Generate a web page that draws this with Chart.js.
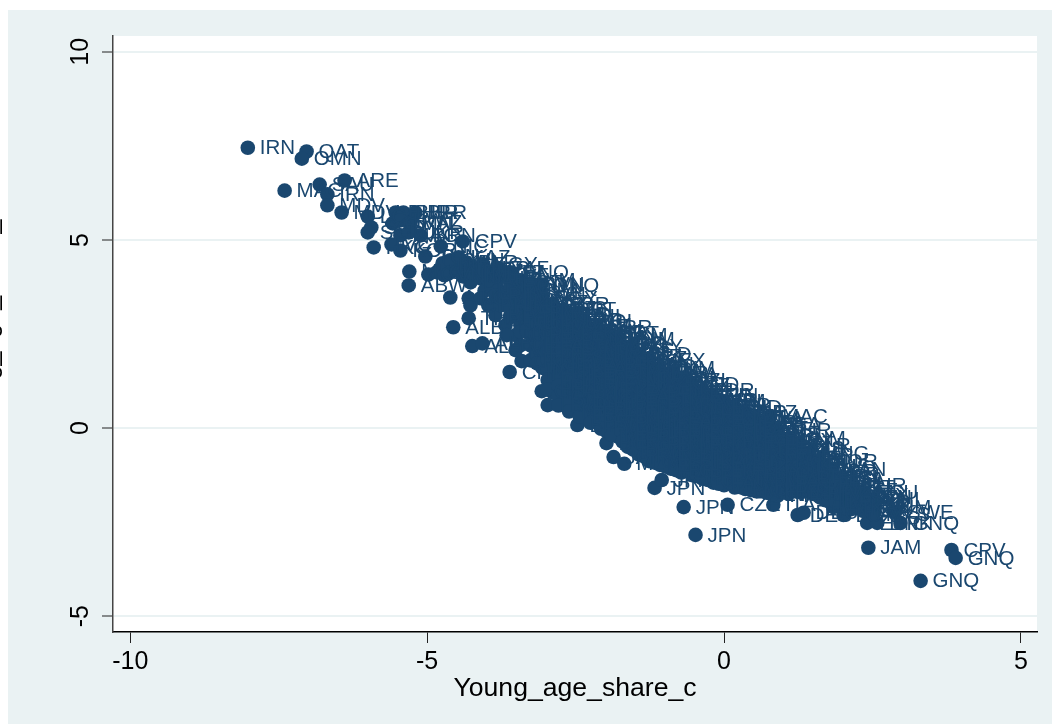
<!DOCTYPE html>
<html>
<head>
<meta charset="utf-8">
<script src="https://cdn.jsdelivr.net/npm/chart.js@4"></script>
<style>
  html, body { margin: 0; padding: 0; background: #ffffff; }
  #wrap { width: 1052px; height: 724px; }
</style>
</head>
<body>
<div id="wrap"><canvas id="scatter-chart" width="1052" height="724"></canvas></div>
<script>
// Axis ticks
const xTicks = [-10, -5, 0, 5];
const yTicks = [-5, 0, 5, 10];

// Countries that stand clear of the main band
const edgeCodes = ['IRN','QAT','OMN','ARE','SAU','MAC','IRN','MDV','MDV','LCA','BHR','BHR','OMN','KWT','SGP','SGP','MAC','BRN','CPV','NIC','HKG','VCT','KOR','TUN','MUS','ABW','COL','PAN','ARG','URY','CHL','THA','ALB','ALB','ALB','CHN','CUB','ARM','GEO','LBN','BIH','BGR','JAM','MLT','ROU','JPN','JPN','JPN','CZE','JPN','DEU','DEU','ITA','AUT','LUX','ESP','DNK','SWE','GNQ','JAM','CPV','GNQ','GNQ','GNQ','TKM','MAC'];
const edgeX = [-8.02,-7.03,-7.11,-6.39,-6.81,-7.40,-6.68,-6.68,-6.44,-6.00,-5.53,-5.40,-5.58,-5.45,-5.94,-6.00,-5.45,-5.11,-4.40,-4.77,-5.90,-5.60,-5.45,-5.03,-5.30,-5.31,-4.98,-4.72,-4.61,-4.30,-4.27,-4.30,-4.56,-4.24,-4.07,-3.61,-3.41,-3.17,-3.07,-2.97,-2.47,-1.98,-1.86,-1.68,-1.71,-1.17,-1.05,-0.68,0.06,-0.48,1.24,1.34,0.83,1.84,2.01,2.41,2.58,2.88,2.97,2.43,3.83,3.90,3.31,-3.09,-1.88,0.78];
const edgeY = [7.45,7.35,7.16,6.58,6.47,6.31,6.21,5.92,5.73,5.62,5.73,5.73,5.44,5.52,5.33,5.20,5.12,5.12,4.96,4.83,4.80,4.88,4.72,4.56,4.16,3.79,4.08,4.27,3.47,3.45,3.26,2.92,2.68,2.18,2.25,1.49,1.78,1.96,0.98,0.61,0.08,-0.40,-0.77,-0.95,-0.32,-1.59,-1.38,-2.10,-2.04,-2.84,-2.31,-2.25,-2.04,-2.10,-2.31,-2.52,-2.52,-2.23,-2.52,-3.18,-3.24,-3.45,-4.06,3.79,2.47,0.32];

// Upper left shoulder of the band
const shoulderX = [-4.84,-4.74,-4.61,-4.47,-4.34,-4.20,-4.40,-4.61,-4.07,-3.93,-4.10,-4.27,-3.76,-3.60,-3.90,-4.03,-4.10,-3.97,-3.85,-3.68,-3.51,-3.43,-3.97,-3.80,-3.63,-3.76,-3.60,-3.43,-3.85,-3.66,-3.51,-3.26,-3.26,-3.09,-3.00,-4.47,-4.27,-4.71,-4.13,-3.80,-3.60,-3.43,-3.26,-5.28,-5.20,-5.31];
const shoulderY = [4.14,4.38,4.46,4.54,4.40,4.24,4.03,4.14,4.35,4.14,3.98,3.87,4.03,3.87,3.77,3.66,3.45,3.26,3.00,2.73,2.47,2.20,3.93,3.66,3.45,3.26,3.00,2.73,3.53,2.47,2.07,2.20,1.80,2.07,1.67,4.19,4.14,4.06,4.14,4.24,4.14,3.93,3.82,5.46,5.73,5.20];

const bandX = [-3.60,-3.42,-3.24,-3.06,-2.88,-2.70,-2.52,-2.34,-2.16,-1.98,-1.80,-1.62,-1.44,-1.26,-1.08,-0.90,-0.72,-0.54,-0.36,-0.18,0,0.18,0.36,0.54,0.72,0.90,1.08,1.26,1.44,1.62,1.80,1.98,2.16,2.34,2.52];
const bandY = [
  [3.76,3.47,3.22,2.94],
  [3.66,3.38,3.10,2.84,2.56],
  [3.55,3.29,3.00,2.74,2.46,2.20],
  [3.46,3.18,2.91,2.63,2.37,2.10,1.83,1.60],
  [3.30,3.03,2.77,2.50,2.22,1.96,1.68,1.41,1.15,0.95],
  [3.15,2.87,2.60,2.33,2.07,1.80,1.52,1.26,0.98,0.72],
  [2.98,2.72,2.45,2.18,1.90,1.64,1.37,1.10,0.83,0.56],
  [2.84,2.56,2.30,2.02,1.76,1.48,1.22,0.95,0.68,0.42],
  [2.67,2.40,2.14,1.87,1.60,1.33,1.06,0.80,0.53,0.26],
  [2.51,2.25,1.98,1.71,1.44,1.18,0.90,0.64,0.37,0.10,-0.08],
  [2.35,2.08,1.82,1.55,1.28,1.01,0.75,0.48,0.21,-0.05,-0.22],
  [2.16,1.90,1.63,1.37,1.10,0.83,0.56,0.30,0.03,-0.24,-0.50],
  [1.97,1.70,1.44,1.17,0.90,0.64,0.37,0.10,-0.16,-0.43,-0.70],
  [1.79,1.52,1.25,0.98,0.72,0.45,0.18,-0.08,-0.35,-0.62,-0.88],
  [1.58,1.32,1.05,0.78,0.52,0.25,-0.02,-0.28,-0.55,-0.82,-0.98],
  [1.43,1.16,0.90,0.63,0.36,0.10,-0.17,-0.44,-0.70,-0.96,-1.08],
  [1.28,1.02,0.75,0.48,0.22,-0.05,-0.32,-0.58,-0.85,-1.10,-1.18],
  [1.15,0.88,0.61,0.35,0.08,-0.19,-0.45,-0.72,-0.98,-1.25],
  [1.00,0.74,0.47,0.20,-0.06,-0.33,-0.60,-0.86,-1.13,-1.35],
  [0.86,0.60,0.33,0.06,-0.20,-0.47,-0.74,-1.00,-1.27,-1.45],
  [0.71,0.44,0.18,-0.09,-0.35,-0.62,-0.89,-1.15,-1.40,-1.52],
  [0.56,0.30,0.03,-0.24,-0.50,-0.77,-1.04,-1.30,-1.58],
  [0.41,0.15,-0.12,-0.38,-0.65,-0.92,-1.18,-1.45,-1.62],
  [0.26,-0.01,-0.27,-0.54,-0.81,-1.07,-1.34,-1.60,-1.68],
  [0.10,-0.16,-0.43,-0.70,-0.96,-1.23,-1.50,-1.72],
  [-0.07,-0.33,-0.60,-0.87,-1.13,-1.40,-1.66,-1.80],
  [-0.27,-0.53,-0.80,-1.06,-1.33,-1.60,-1.75],
  [-0.46,-0.72,-0.99,-1.25,-1.52,-1.70],
  [-0.66,-0.93,-1.19,-1.46,-1.70],
  [-0.88,-1.14,-1.41,-1.68,-1.85],
  [-1.09,-1.35,-1.62,-1.88,-1.95],
  [-1.31,-1.58,-1.84,-2.05],
  [-1.52,-1.78,-2.05,-2.15],
  [-1.70,-1.96,-2.20],
  [-1.90,-2.10,-2.30]
];

// Second pass over the band, sits in the gaps of the first columns
const fillX = [-3.33,-3.15,-2.97,-2.79,-2.61,-2.43,-2.25,-2.07,-1.89,-1.71,-1.53,-1.35,-1.17,-0.99,-0.81,-0.63,-0.45,-0.27,-0.09,0.09,0.27,0.45,0.63,0.81,0.99,1.17,1.35,1.53,1.71,1.89,2.07,2.25];
const fillY = [
  [3.42,3.16,2.89,2.60],
  [3.33,3.05,2.78,2.50,2.24,1.96,1.72],
  [3.17,2.90,2.64,2.36,2.09,1.82,1.55,1.28,1.02],
  [3.01,2.74,2.46,2.20,1.93,1.66,1.39,1.12,0.85,0.60],
  [2.85,2.58,2.31,2.04,1.77,1.50,1.23,0.96,0.69,0.44],
  [2.70,2.43,2.16,1.89,1.62,1.35,1.08,0.81,0.55,0.30],
  [2.54,2.27,2.00,1.73,1.46,1.20,0.93,0.66,0.40,0.14],
  [2.38,2.11,1.85,1.58,1.31,1.04,0.77,0.50,0.24,-0.02],
  [2.22,1.95,1.68,1.41,1.15,0.88,0.61,0.34,0.07,-0.18],
  [2.03,1.76,1.50,1.23,0.96,0.69,0.42,0.16,-0.11,-0.36],
  [1.84,1.57,1.30,1.03,0.77,0.50,0.23,-0.04,-0.30,-0.57],
  [1.65,1.38,1.11,0.85,0.58,0.31,0.04,-0.22,-0.49,-0.75],
  [1.45,1.18,0.91,0.65,0.38,0.11,-0.16,-0.42,-0.69,-0.92],
  [1.28,1.01,0.75,0.48,0.21,-0.05,-0.32,-0.59,-0.85,-1.02],
  [1.13,0.87,0.60,0.33,0.07,-0.20,-0.47,-0.73,-1.00,-1.12],
  [1.00,0.73,0.46,0.20,-0.07,-0.34,-0.60,-0.87,-1.13],
  [0.86,0.59,0.33,0.06,-0.21,-0.47,-0.74,-1.01,-1.28],
  [0.72,0.45,0.19,-0.08,-0.35,-0.61,-0.88,-1.15,-1.38],
  [0.58,0.31,0.05,-0.22,-0.49,-0.75,-1.02,-1.29,-1.48],
  [0.43,0.16,-0.10,-0.37,-0.64,-0.90,-1.17,-1.44],
  [0.28,0.01,-0.25,-0.52,-0.79,-1.05,-1.32,-1.57],
  [0.13,-0.14,-0.40,-0.67,-0.94,-1.20,-1.47,-1.65],
  [-0.03,-0.30,-0.56,-0.83,-1.10,-1.36,-1.62],
  [-0.20,-0.47,-0.73,-1.00,-1.27,-1.53,-1.76],
  [-0.40,-0.66,-0.93,-1.20,-1.46,-1.70],
  [-0.60,-0.86,-1.13,-1.40,-1.62],
  [-0.80,-1.06,-1.33,-1.58],
  [-1.02,-1.28,-1.55,-1.76],
  [-1.23,-1.49,-1.76,-1.92],
  [-1.45,-1.71,-1.98],
  [-1.66,-1.92,-2.14],
  [-1.85,-2.08]
];

// Label pool for the band, the text mostly merges into the blob
const bandCodes = ['GNQ','TKM','SVN','KAZ','BLR','UKR','POL','HUN','EGY','KGZ','MNG','LTU','LVA','EST','FIN','NOR','GBR','FRA','BEL','NLD','CAN','USA','AUS','NZL','IRL','ISL','PRT','GRC','RUS','TUR','MEX','BRA','PER','ECU','IND','IDN','PHL','VNM','MYS','ZAF'];

// Build the point list the library draws from
const points = [];
const codes = [];
edgeX.forEach((x, i) => { points.push({ x: x, y: edgeY[i] }); codes.push(edgeCodes[i]); });
shoulderX.forEach((x, i) => { points.push({ x: x, y: shoulderY[i] }); codes.push(bandCodes[i % bandCodes.length]); });
bandX.forEach((x, c) => {
    bandY[c].forEach(y => {
        points.push({ x: x, y: y });
        codes.push(bandCodes[points.length % bandCodes.length]);
    });
});
fillX.forEach((x, c) => {
    fillY[c].forEach(y => {
        points.push({ x: x, y: y });
        codes.push(bandCodes[points.length % bandCodes.length]);
    });
});

const markerColor = '#1a476f';
const panelColor = '#eaf2f3';

// Stata style panel behind the plot
const panelPlugin = {
    id: 'panel',
    beforeDraw(chart) {
        const { ctx, chartArea: a } = chart;
        ctx.save();
        ctx.fillStyle = panelColor;
        ctx.fillRect(8, 10, chart.width - 8, chart.height - 10);
        ctx.fillStyle = '#ffffff';
        ctx.fillRect(a.left, a.top, a.right - a.left, a.bottom - a.top);
        ctx.restore();
    }
};

// Country code to the right of every marker
const codeLabelPlugin = {
    id: 'codeLabels',
    afterDatasetsDraw(chart) {
        const { ctx } = chart;
        const meta = chart.getDatasetMeta(0);
        ctx.save();
        ctx.fillStyle = markerColor;
        ctx.font = '20.5px "Liberation Sans"';
        ctx.textAlign = 'left';
        ctx.textBaseline = 'middle';
        meta.data.forEach((el, i) => ctx.fillText(codes[i], el.x + 12, el.y + 1));
        ctx.restore();
    }
};

// The y title runs off the left edge of the picture, only the underscores and the g tails show
const yTitlePlugin = {
    id: 'yTitle',
    afterDraw(chart) {
        const { ctx } = chart;
        ctx.save();
        ctx.translate(-3, 207);
        ctx.rotate(-Math.PI / 2);
        ctx.fillStyle = '#000000';
        ctx.font = '25px "Liberation Sans"';
        ctx.textAlign = 'right';
        ctx.textBaseline = 'alphabetic';
        ctx.fillText('Working_age_share_c', 0, 0);
        ctx.restore();
    }
};

new Chart(document.getElementById('scatter-chart').getContext('2d'), {
    type: 'scatter',
    data: {
        datasets: [{
            data: points,
            backgroundColor: markerColor,
            borderColor: markerColor,
            borderWidth: 0,
            pointRadius: 7.3
        }]
    },
    options: {
        responsive: false,
        animation: false,
        layout: { padding: { top: 36, right: 15, left: 0, bottom: 0 } },
        plugins: { legend: { display: false }, tooltip: { enabled: false }, title: { display: false } },
        scales: {
            x: {
                type: 'linear',
                min: -10.29,
                max: 5.27,
                afterBuildTicks: axis => { axis.ticks = xTicks.map(v => ({ value: v })); },
                afterFit: axis => { axis.height = 92; },
                border: { color: '#000000', width: 1.5 },
                grid: { drawOnChartArea: false, tickColor: '#222222', tickLength: 11, tickWidth: 1 },
                ticks: { color: '#000000', font: { family: 'Liberation Sans', size: 25 }, padding: 4, maxRotation: 0, autoSkip: false },
                title: { display: true, text: 'Young_age_share_c', color: '#000000', font: { family: 'Liberation Sans', size: 26.6 }, padding: { top: 0, bottom: 19 } }
            },
            y: {
                type: 'linear',
                min: -5.42,
                max: 10.42,
                afterBuildTicks: axis => { axis.ticks = yTicks.map(v => ({ value: v })); },
                afterFit: axis => { axis.width = 113; },
                border: { color: '#444444', width: 1.5 },
                grid: { color: panelColor, lineWidth: 2, tickColor: '#222222', tickLength: 11, tickWidth: 1 },
                ticks: { color: '#000000', font: { family: 'Liberation Sans', size: 25 }, padding: 7, minRotation: 90, maxRotation: 90, crossAlign: 'center', autoSkip: false }
            }
        }
    },
    plugins: [panelPlugin, codeLabelPlugin, yTitlePlugin]
});
</script>
</body>
</html>
